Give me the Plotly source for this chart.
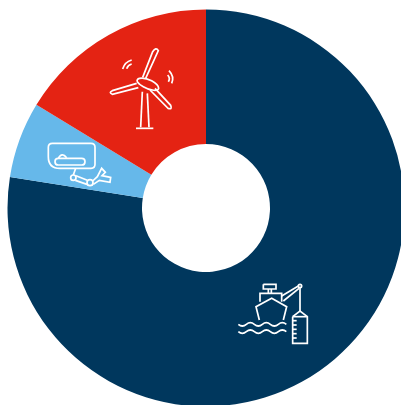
import plotly.graph_objects as go

# Share of each sector, drawn clockwise from twelve o'clock
sectors = ["Ship survey", "Subsea", "Offshore wind"]
shares = [77.5, 6.2, 16.3]
sector_colors = ["#00375d", "#66b8ea", "#e42313"]

W, H = 412, 412
CX, CY, R = 206, 208, 198.5
HOLE_R = 64


def path(points, ox, oy):
    """Build a paper-referenced SVG path from icon points given at 1/3 pixel scale."""
    out = []
    for cmd, *pts in points:
        coords = []
        for x, y in pts:
            coords.append(f"{(ox + x / 3) / W:.5f},{1 - (oy + y / 3) / H:.5f}")
        out.append(cmd + " ".join(coords))
    return " ".join(out)


def poly(pts):
    return [("M", pts[0])] + [("L", p) for p in pts[1:]]


def circle_pts(cx, cy, r):
    k = 0.552 * r
    return [
        ("M", (cx + r, cy)),
        ("C", (cx + r, cy + k), (cx + k, cy + r), (cx, cy + r)),
        ("C", (cx - k, cy + r), (cx - r, cy + k), (cx - r, cy)),
        ("C", (cx - r, cy - k), (cx - k, cy - r), (cx, cy - r)),
        ("C", (cx + k, cy - r), (cx + r, cy - k), (cx + r, cy)),
    ]


def wave(x0, y, n, step, amp):
    segs = [("M", (x0, y))]
    x = x0
    for i in range(n):
        sign = 1 if i % 2 == 0 else -1
        segs.append(("Q", (x + step / 2, y + sign * amp * 2), (x + step, y)))
        x += step
    return segs


# Wind turbine icon
turbine = [
    poly([(108, 265), (160, 265)]),
    poly([(122, 262), (127, 155)]),
    poly([(147, 262), (142, 160)]),
    [("M", (128, 112)), ("L", (158, 35)), ("Q", (168, 20), (175, 32)), ("L", (137, 115))],
    [("M", (110, 130)), ("L", (37, 152)), ("Q", (25, 158), (37, 163)), ("L", (115, 143))],
    [("M", (165, 145)), ("L", (212, 196)), ("Q", (218, 210), (204, 205)), ("L", (150, 150))],
    [("M", (118, 115)), ("C", (140, 110), (175, 130), (176, 145)),
     ("C", (176, 155), (150, 152), (130, 140)), ("C", (112, 130), (105, 120), (118, 115))],
    [("M", (68, 87)), ("Q", (74, 66), (95, 60))],
    [("M", (80, 86)), ("Q", (84, 75), (95, 72))],
    [("M", (207, 92)), ("Q", (224, 110), (215, 130))],
    [("M", (203, 105)), ("Q", (212, 115), (205, 125))],
]

# Subsea vehicle icon
subsea = [
    [("M", (37, 25)), ("L", (153, 25)), ("Q", (165, 25), (165, 37)), ("L", (165, 88)),
     ("Q", (165, 100), (153, 100)), ("L", (60, 100)), ("Q", (25, 100), (25, 65)),
     ("L", (25, 37)), ("Q", (25, 25), (37, 25))],
    [("M", (55, 70)), ("L", (125, 70)), ("Q", (135, 70), (135, 80)), ("Q", (135, 90), (125, 90)),
     ("L", (55, 90)), ("Q", (45, 90), (45, 80)), ("Q", (45, 70), (55, 70))],
    [("M", (55, 70)), ("Q", (66, 50), (80, 68))],
    poly([(107, 100), (100, 120)]),
    circle_pts(100, 128, 8),
    circle_pts(150, 143, 9),
    poly([(108, 122), (142, 136)]),
    poly([(106, 136), (141, 148)]),
    poly([(158, 138), (172, 125), (185, 100), (196, 112), (186, 122), (212, 127), (210, 142), (178, 136), (160, 148)]),
]

# Survey vessel icon
vessel = [
    poly([(88, 135), (78, 95), (125, 70), (170, 95), (160, 135)]),
    poly([(90, 80), (90, 55), (155, 55), (155, 80)]),
    poly([(100, 28), (138, 28), (138, 42), (100, 42), (100, 28)]),
    poly([(115, 42), (115, 55)]),
    poly([(124, 42), (124, 55)]),
    poly([(155, 63), (205, 33)]),
    poly([(160, 78), (207, 40)]),
    circle_pts(210, 33, 5),
    poly([(210, 38), (210, 108)]),
    poly([(188, 125), (210, 108), (232, 125), (232, 205), (188, 205), (188, 125)]),
    poly([(188, 125), (232, 125)]),
    wave(25, 148, 6, 24, 5),
    wave(25, 170, 6, 24, 5),
] + [poly([(188, y), (200, y)]) for y in (137, 150, 163, 176, 189)]

icons = [(turbine, 100, 40), (subsea, 40, 135), (vessel, 230, 275)]

shapes = []
for parts, ox, oy in icons:
    for part in parts:
        shapes.append(dict(
            type="path", xref="paper", yref="paper", layer="above",
            path=path(part, ox, oy),
            line=dict(color="white", width=1.7),
        ))

fig = go.Figure(go.Pie(
    labels=sectors,
    values=shares,
    sort=False,
    direction="clockwise",
    rotation=0,
    hole=HOLE_R / R,
    marker=dict(colors=sector_colors, line=dict(width=0)),
    textinfo="none",
    hoverinfo="label+percent",
    domain=dict(
        x=[(CX - R) / W, (CX + R) / W],
        y=[1 - (CY + R) / H, 1 - (CY - R) / H],
    ),
))

fig.update_layout(
    width=W,
    height=H,
    margin=dict(l=0, r=0, t=0, b=0),
    paper_bgcolor="white",
    showlegend=False,
    shapes=shapes,
)

fig.write_html(
    "out.html",
    config={"displayModeBar": False},
    post_script="document.documentElement.style.overflow='hidden';document.body.style.overflow='hidden';",
)
